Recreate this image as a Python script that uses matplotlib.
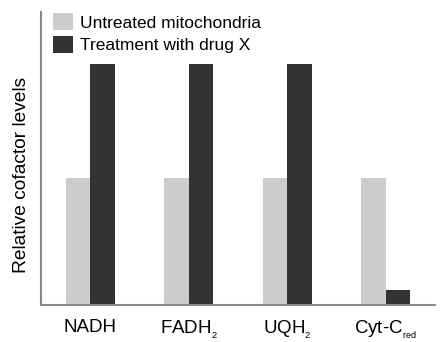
import matplotlib
matplotlib.use("Agg")
import matplotlib.pyplot as plt
import numpy as np

plt.rcParams['font.family'] = ['Liberation Sans', 'DejaVu Sans']
plt.rcParams['mathtext.fontset'] = 'custom'
plt.rcParams['mathtext.rm'] = 'Liberation Sans'
plt.rcParams['mathtext.it'] = 'Liberation Sans'

categories = ['NADH', r'FADH$_{_2}$', r'UQH$_{_2}$', r'Cyt-C$_{_{\mathrm{red}}}$']
untreated = [1.0, 1.0, 1.0, 1.0]
drug_x = [1.9, 1.9, 1.9, 0.12]
series_names = ['Untreated mitochondria', 'Treatment with drug X']

fig = plt.figure(figsize=(4.47, 3.42), dpi=100)
ax = fig.add_axes([41/447, 1-305/342, (435-41)/447, (305-12)/342])
x = np.arange(len(categories))
w = 0.25
ax.bar(x - w/2, untreated, w, color='#cccccc', label=series_names[0])
ax.bar(x + w/2, drug_x, w, color='#333333', label=series_names[1])
ax.set_xlim(-0.5, 3.5)
ax.set_ylim(0, 293/127)
ax.set_xticks(x)
ax.set_xticklabels(categories, fontsize=13.5)
ax.tick_params(axis='x', length=0, pad=10)
ax.set_yticks([])
for s in ['top', 'right']:
    ax.spines[s].set_visible(False)
for s in ['left', 'bottom']:
    ax.spines[s].set_color('#888888')
    ax.spines[s].set_linewidth(1.5)
fig.text(22/447, 1-175/342, 'Relative cofactor levels', fontsize=13.8,
         rotation=90, ha='center', va='center')
leg = ax.legend(loc='upper left', bbox_to_anchor=(0.012, 1.02), frameon=False,
                fontsize=12.5, handlelength=1.15, handleheight=1.15, handletextpad=0.4,
                labelspacing=0.3, borderaxespad=0)
fig.savefig('out.png', dpi=100)
